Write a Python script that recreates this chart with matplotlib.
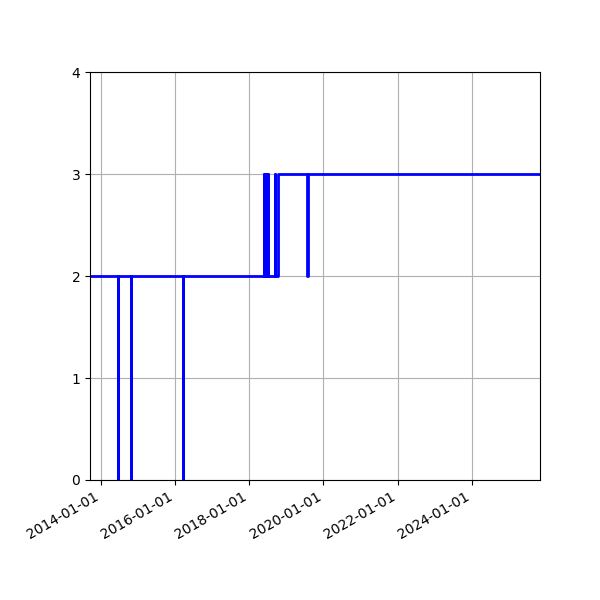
import numpy as np
import pandas as pd
import matplotlib
matplotlib.use("Agg")
import matplotlib.pyplot as plt
import matplotlib.dates as mdates

# ------------------------- data -------------------------
# dates where the level changes, and the level held from that date on
CHANGE_DATES = [
    "2013-09-17",
    "2014-06-22", "2014-06-24",
    "2014-10-22", "2014-10-24",
    "2016-03-23", "2016-03-25",
    "2018-05-23", "2018-05-25",
    "2018-06-02", "2018-06-04",
    "2018-06-17", "2018-06-19",
    "2018-06-30", "2018-07-02",
    "2018-09-10", "2018-09-12",
    "2018-10-09",
    "2019-07-27", "2019-07-29",
    "2025-11-01",
]
LEVELS = [
    2,
    0, 2,
    0, 2,
    0, 2,
    3, 2,
    3, 2,
    3, 2,
    3, 2,
    3, 2,
    3,
    2, 3,
    3,
]

YTICKS = [0, 1, 2, 3, 4]

dates = pd.to_datetime(CHANGE_DATES)
levels = np.array(LEVELS)

fig, ax = plt.subplots(figsize=(6, 6), dpi=100)
fig.subplots_adjust(left=0.15, right=0.9, top=0.88, bottom=0.2)

ax.step(dates, levels, where="post", color="blue", linewidth=2)

ax.set_xlim(dates[0], dates[-1])
ax.set_ylim(0, 4)
ax.set_yticks(YTICKS)

ax.xaxis.set_major_locator(mdates.YearLocator(2))
ax.xaxis.set_major_formatter(mdates.DateFormatter("%Y-%m-%d"))
ax.grid(True)

for lbl in ax.get_xticklabels():
    lbl.set_rotation(30)
    lbl.set_ha("right")

fig.savefig("out.png", dpi=100)
